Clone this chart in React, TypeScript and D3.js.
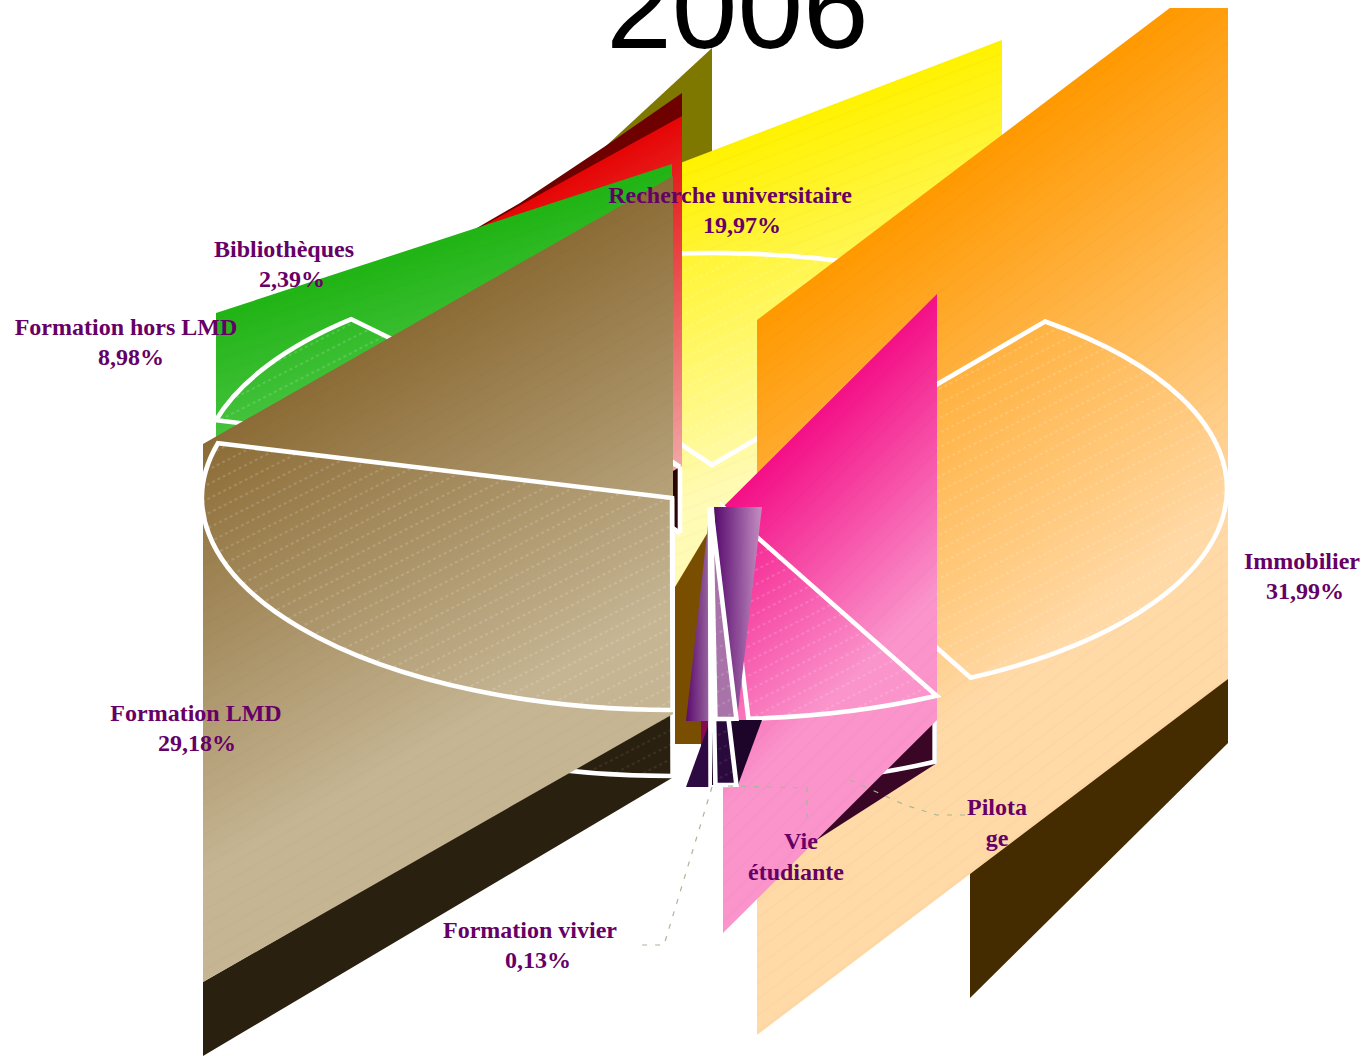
import React from "react";
import * as d3 from "d3";

// Budget shares for 2006, in the order they run clockwise round the pie.
const categories = [
  "Immobilier",
  "Pilotage",
  "Vie étudiante",
  "Formation vivier",
  "Formation LMD",
  "Formation hors LMD",
  "Bibliothèques",
  "Recherche universitaire",
];
const shares = [31.99, 6.65, 0.71, 0.13, 29.18, 8.98, 2.39, 19.97];

const labelLines = [
  ["Immobilier", "31,99%"],
  ["Pilota", "ge"],
  ["Vie", "étudiante"],
  ["Formation vivier", "0,13%"],
  ["Formation LMD", "29,18%"],
  ["Formation hors LMD", "8,98%"],
  ["Bibliothèques", "2,39%"],
  ["Recherche universitaire", "19,97%"],
];

type Pt = [number, number];

const RX = 470;
const RY = 212;
const DEPTH = 66;
const START = (37.8 * Math.PI) / 180;
const RIM = 4.6;

const para = (x0: number, yL: number, x1: number, yR: number, h: number): Pt[] => [
  [x0, yL],
  [x1, yR],
  [x1, yR + h],
  [x0, yL + h],
];

interface Layout {
  center: Pt;
  wall: Pt[];
  under: { pts: Pt[]; fill: string }[];
  shade: string;
  grad: { from: Pt; to: Pt; c0: string; c1: string };
  sheen: number;
  faceFill?: string;
  rimOnly?: boolean;
}

const layouts: Record<string, Layout> = {
  Immobilier: {
    center: [757, 489],
    wall: para(757, 320, 1228, -36, 715),
    under: [
      { pts: [[970, 678], [1228, 678], [1228, 743], [970, 998]], fill: "#452b00" },
    ],
    shade: "#452b00",
    grad: { from: [757, 320], to: [1020, 668], c0: "#ff9900", c1: "#ffd9a6" },
    sheen: -37,
  },
  Pilotage: {
    center: [723, 507],
    wall: para(723, 507, 937, 294, 426),
    under: [
      { pts: [[723, 507], [937, 696], [937, 763], [723, 900]], fill: "#3a0626" },
    ],
    shade: "#3a0626",
    grad: { from: [723, 507], to: [873, 657], c0: "#f40f87", c1: "#fa94cb" },
    sheen: -45,
    rimOnly: true,
  },
  "Vie étudiante": {
    center: [711, 507],
    wall: [[714, 507], [762, 507], [737, 720], [728, 720]],
    under: [
      { pts: [[712, 720], [762, 720], [738, 785], [712, 785]], fill: "#1c0528" },
    ],
    shade: "#2a0a3c",
    grad: { from: [714, 507], to: [762, 507], c0: "#560a6e", c1: "#c68fc2" },
    sheen: -80,
    faceFill: "#a873a8",
  },
  "Formation vivier": {
    center: [710, 507],
    wall: [[710, 507], [686, 721], [712, 721]],
    under: [
      { pts: [[701, 720], [712, 720], [712, 765], [701, 765]], fill: "#850a4f" },
      { pts: [[710, 721], [686, 787], [712, 787]], fill: "#2e0a42" },
    ],
    shade: "#2e0a42",
    grad: { from: [686, 600], to: [712, 600], c0: "#5a0a6a", c1: "#a070a8" },
    sheen: -80,
    faceFill: "#8a4f90",
  },
  "Formation LMD": {
    center: [672, 498],
    wall: para(203, 444, 673, 176, 538),
    under: [
      { pts: [[203, 982], [672, 712], [672, 778], [203, 1056]], fill: "#2a2010" },
    ],
    shade: "#2a2010",
    grad: { from: [203, 444], to: [388, 769], c0: "#8c6c36", c1: "#c5b593" },
    sheen: -30,
  },
  "Formation hors LMD": {
    center: [670, 475],
    wall: para(216, 313, 672, 164, 400),
    under: [],
    shade: "#0f5a0a",
    grad: { from: [216, 313], to: [309, 598], c0: "#20b414", c1: "#7fd97f" },
    sheen: -18,
  },
  Bibliothèques: {
    center: [680, 467],
    wall: para(363, 292, 682, 116, 350),
    under: [
      {
        pts: [[682, 93], [607, 145], [520, 203], [470, 232], [470, 300], [682, 300]],
        fill: "#6e0000",
      },
      { pts: [[673, 460], [680, 460], [680, 533], [673, 533]], fill: "#2a0505" },
    ],
    shade: "#2a0505",
    grad: { from: [682, 116], to: [829, 384], c0: "#e60505", c1: "#f2a6a6" },
    sheen: -29,
  },
  "Recherche universitaire": {
    center: [712, 465],
    wall: [[675, 165], [1002, 40], [1002, 300], [723, 507], [675, 587]],
    under: [
      {
        pts: [[712, 48], [712, 300], [500, 300], [500, 244]],
        fill: "#7f7800",
      },
      { pts: [[675, 580], [722, 500], [722, 744], [675, 744]], fill: "#7a4e00" },
    ],
    shade: "#7a4e00",
    grad: { from: [675, 165], to: [790, 465], c0: "#fff200", c1: "#fffbb4" },
    sheen: -21,
  },
};

// Painted back to front.
const paintOrder = [
  "Recherche universitaire",
  "Bibliothèques",
  "Formation hors LMD",
  "Formation LMD",
  "Immobilier",
  "Pilotage",
  "Formation vivier",
  "Vie étudiante",
];

const labelAnchors: Record<string, [Pt, Pt]> = {
  Immobilier: [[1302, 569], [1305, 599]],
  Pilotage: [[997, 815], [997, 846]],
  "Vie étudiante": [[801, 849], [796, 880]],
  "Formation vivier": [[530, 938], [538, 968]],
  "Formation LMD": [[196, 721], [197, 751]],
  "Formation hors LMD": [[126, 335], [131, 365]],
  Bibliothèques: [[284, 257], [292, 287]],
  "Recherche universitaire": [[730, 203], [742, 233]],
};

const leaderLines: Pt[][] = [
  [[712, 787], [664, 945], [635, 945]],
  [[728, 786], [807, 788], [807, 822]],
  [[850, 780], [905, 805], [937, 815], [965, 815]],
];

const slug = (s: string) => s.replace(/[^a-zA-Z]/g, "");

const polyline = d3.line<Pt>();
const closed = (pts: Pt[]) => polyline(pts) + "Z";

function rimPoint(center: Pt, a: number, dy = 0): Pt {
  return [center[0] + RX * Math.sin(a), center[1] + dy - RY * Math.cos(a)];
}

function sectorPath(center: Pt, a0: number, a1: number, dy = 0) {
  const [x0, y0] = rimPoint(center, a0, dy);
  const [x1, y1] = rimPoint(center, a1, dy);
  const large = a1 - a0 > Math.PI ? 1 : 0;
  return `M${center[0]},${center[1] + dy}L${x0},${y0}A${RX},${RY} 0 ${large} 1 ${x1},${y1}Z`;
}

// The outer edge of the lower face alone: its near upright, then the arc.
function rimPath(center: Pt, a0: number, a1: number) {
  const [x0, y0] = rimPoint(center, a0);
  const [x1, y1] = rimPoint(center, a1, DEPTH);
  return `M${x0 - 2},${y0}V${y0 + DEPTH}A${RX},${RY} 0 0 1 ${x1},${y1}`;
}

export default function App() {
  const arcs = d3
    .pie<number>()
    .sort(null)
    .startAngle(START)
    .endAngle(START + 2 * Math.PI)(shares);
  const byName = new Map(categories.map((c, i) => [c, arcs[i]]));

  return (
    <svg
      width={1371}
      height={1061}
      viewBox="0 0 1371 1061"
      style={{ position: "absolute", left: 0, top: 0, display: "block", background: "#fff" }}
    >
      <defs>
        <clipPath id="plot">
          <rect x={0} y={8} width={1371} height={1053} />
        </clipPath>
        <pattern
          id="dots"
          width={60}
          height={13}
          patternUnits="userSpaceOnUse"
          patternTransform="rotate(-27)"
        >
          <line
            x1={0}
            y1={6}
            x2={60}
            y2={6}
            stroke="#fff"
            strokeOpacity={0.3}
            strokeWidth={1}
            strokeDasharray="3 3"
          />
        </pattern>
        {categories.map((c) => {
          const l = layouts[c];
          return (
            <React.Fragment key={c}>
              <linearGradient
                id={`g${slug(c)}`}
                gradientUnits="userSpaceOnUse"
                x1={l.grad.from[0]}
                y1={l.grad.from[1]}
                x2={l.grad.to[0]}
                y2={l.grad.to[1]}
              >
                <stop offset="0" stopColor={l.grad.c0} />
                <stop offset="1" stopColor={l.grad.c1} />
              </linearGradient>
              <pattern
                id={`s${slug(c)}`}
                width={40}
                height={13}
                patternUnits="userSpaceOnUse"
                patternTransform={`rotate(${l.sheen})`}
              >
                <line x1={0} y1={6} x2={40} y2={6} stroke="#000" strokeOpacity={0.025} strokeWidth={1} />
              </pattern>
            </React.Fragment>
          );
        })}
      </defs>

      <g clipPath="url(#plot)">
        {paintOrder.map((c) => {
          const l = layouts[c];
          const a = byName.get(c)!;
          const id = slug(c);
          const face = sectorPath(l.center, a.startAngle, a.endAngle);
          const lower = sectorPath(l.center, a.startAngle, a.endAngle, DEPTH);
          return (
            <g key={c}>
              {l.under.map((u, i) => (
                <path key={i} d={closed(u.pts)} fill={u.fill} />
              ))}
              {l.rimOnly ? (
                <path
                  d={rimPath(l.center, a.startAngle, a.endAngle)}
                  fill="none"
                  stroke="#fff"
                  strokeWidth={RIM}
                />
              ) : (
                <>
                  <path d={lower} fill={l.shade} stroke="#fff" strokeWidth={RIM} />
                  <path
                    d={`M${l.center[0]},${l.center[1]}V${l.center[1] + DEPTH}`}
                    stroke="#fff"
                    strokeWidth={RIM}
                  />
                  <path d={lower} fill="url(#dots)" opacity={0.5} />
                </>
              )}
              <path d={closed(l.wall)} fill={`url(#g${id})`} />
              <path d={closed(l.wall)} fill={`url(#s${id})`} />
              <path d={face} fill={l.faceFill ?? `url(#g${id})`} />
              <path d={face} fill="url(#dots)" />
              <path d={face} fill="none" stroke="#fff" strokeWidth={RIM} strokeLinejoin="miter" />
            </g>
          );
        })}

        {leaderLines.map((pts, i) => (
          <path
            key={i}
            d={polyline(pts)!}
            fill="none"
            stroke="#a5b896"
            strokeWidth={1.2}
            strokeDasharray="5 8"
          />
        ))}
      </g>

      <text
        x={737.5}
        y={48}
        textAnchor="middle"
        fontFamily="'Liberation Sans', Arial, sans-serif"
        fontSize={118}
        fill="#000"
      >
        2006
      </text>

      {categories.map((c, i) =>
        labelLines[i].map((line, j) => (
          <text
            key={`${c}${j}`}
            x={labelAnchors[c][j][0]}
            y={labelAnchors[c][j][1]}
            textAnchor="middle"
            fontFamily="'Liberation Serif', 'Times New Roman', serif"
            fontWeight="bold"
            fontSize={24}
            fill="#660066"
          >
            {line}
          </text>
        ))
      )}
    </svg>
  );
}
